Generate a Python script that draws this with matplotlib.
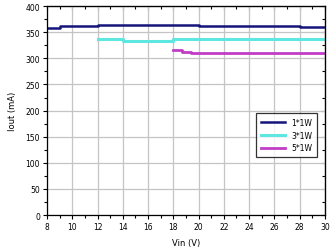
import matplotlib
matplotlib.use("Agg")
import matplotlib.pyplot as plt
from matplotlib.ticker import MultipleLocator, NullFormatter

# Output current vs input voltage, per LED configuration
vin_1w = [8, 9, 10, 11, 12, 13, 14, 15, 16, 17, 18, 19, 20, 21, 22, 23, 24, 25, 26, 27, 28, 29, 30]
iout_1w = [358, 361, 362, 362, 364, 364, 364, 364, 364, 364, 364, 364, 362, 362, 362, 362, 362, 362, 362, 362, 360, 360, 360]

vin_3w = [12, 13, 14, 15, 16, 17, 18, 19, 20, 22, 24, 26, 28, 30]
iout_3w = [336, 336, 334, 334, 334, 334, 336, 336, 336, 336, 336, 336, 336, 336]

vin_5w = [18, 18.7, 19.4, 20, 22, 24, 26, 28, 30]
iout_5w = [315, 313, 311, 310, 310, 310, 310, 310, 310]

labels = ["1*1W", "3*1W", "5*1W"]
colors = ["#14147a", "#5ee6e0", "#c23cc6"]

fig = plt.figure(figsize=(3.32, 2.51), dpi=100)
ax = fig.add_axes([0.1416, 0.139, 0.837, 0.833])

ax.plot(vin_1w, iout_1w, drawstyle="steps-post", color=colors[0], lw=1.8, label=labels[0])
ax.plot(vin_3w, iout_3w, drawstyle="steps-post", color=colors[1], lw=2.2, label=labels[1])
ax.plot(vin_5w, iout_5w, drawstyle="steps-post", color=colors[2], lw=2.0, label=labels[2])

ax.set_xlim(8, 30)
ax.set_ylim(0, 400)
ax.xaxis.set_major_locator(MultipleLocator(2))
ax.xaxis.set_minor_locator(MultipleLocator(1))
ax.yaxis.set_major_locator(MultipleLocator(50))
ax.yaxis.set_minor_locator(MultipleLocator(25))

ax.grid(True, which="major", color="#c4c4c4", lw=0.9)
ax.set_axisbelow(True)
ax.tick_params(which="both", direction="out", labelsize=5.5, width=0.8, pad=2)
ax.tick_params(which="major", length=3)
ax.tick_params(which="minor", length=2)

# ticks on top and right point inward, no labels
sx = ax.secondary_xaxis("top")
sx.xaxis.set_major_locator(MultipleLocator(2))
sx.xaxis.set_minor_locator(MultipleLocator(1))
sx.xaxis.set_major_formatter(NullFormatter())
sy = ax.secondary_yaxis("right")
sy.yaxis.set_major_locator(MultipleLocator(50))
sy.yaxis.set_minor_locator(MultipleLocator(25))
sy.yaxis.set_major_formatter(NullFormatter())
for sec in (sx, sy):
    sec.tick_params(which="both", direction="in", width=0.8)
    sec.tick_params(which="major", length=3)
    sec.tick_params(which="minor", length=2)

for s in ax.spines.values():
    s.set_linewidth(0.9)

ax.set_xlabel("Vin (V)", fontsize=6, labelpad=5)
ax.set_ylabel("Iout (mA)", fontsize=6, labelpad=6)

leg = ax.legend(loc="lower right", bbox_to_anchor=(0.985, 0.26), fontsize=5.5,
                frameon=True, fancybox=False, edgecolor="black",
                handlelength=3.2, borderpad=0.6, labelspacing=0.5)
leg.get_frame().set_linewidth(0.9)

fig.savefig("out.png", dpi=100)
